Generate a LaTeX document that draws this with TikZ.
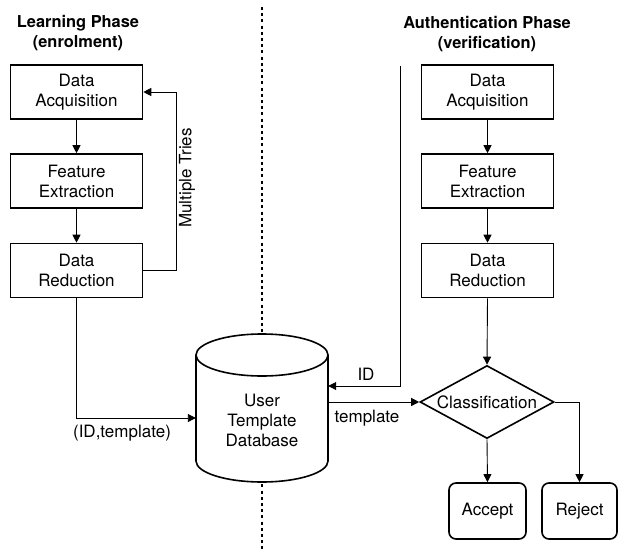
\documentclass[tikz,border=0pt]{standalone}
\usepackage{fontspec}
\setmainfont{TeX Gyre Heros}
\usetikzlibrary{arrows.meta,shapes.geometric}
\begin{document}
\begin{tikzpicture}[x=1pt,y=-1pt,
  every node/.style={font=\fontsize{17}{20}\selectfont},
  procbox/.style={draw, line width=1.6pt, minimum width=132pt, minimum height=54pt, inner sep=0pt, align=center, fill=white},
  endbox/.style={draw, line width=1.6pt, rounded corners=7pt, minimum height=56pt, inner sep=0pt, align=center},
  title/.style={font=\fontsize{16.4}{20}\selectfont\bfseries, align=center},
  conn/.style={line width=0.9pt, -{Triangle[length=8pt,width=8pt]}},
  plain/.style={line width=0.9pt},
  lbl/.style={inner sep=0pt}]
\useasboundingbox (0,0) rectangle (618,549);
% separator
\draw[line width=2pt, dash pattern=on 3pt off 3.2pt] (262,7) -- (262,549);
% titles
\node[title] (tl) at (78,33) {Learning Phase\\(enrolment)};
\node[title] (tr) at (487,34) {Authentication Phase\\(verification)};
% left column
\node[procbox] (la) at (76.5,92) {Data\\Acquisition};
\node[procbox] (lf) at (76.5,181) {Feature\\Extraction};
\node[procbox] (lr) at (76.5,270.5) {Data\\Reduction};
% right column
\node[procbox] (ra) at (487.5,92) {Data\\Acquisition};
\node[procbox] (rf) at (487.5,181) {Feature\\Extraction};
\node[procbox] (rr) at (487.5,270.5) {Data\\Reduction};
% database cylinder
\draw[line width=1.6pt, fill=white] (196,355) -- (196,461) arc[start angle=180, end angle=0, x radius=66, y radius=21] -- (328,355) arc[start angle=360, end angle=180, x radius=66, y radius=21] -- cycle;
\draw[line width=1.6pt] (196,355) arc[start angle=180, end angle=0, x radius=66, y radius=21];
\node[minimum width=132pt, minimum height=86pt, inner sep=0pt, align=center] (db) at (262,420) {User\\Template\\Database};
% classification
\node[draw, diamond, line width=1.6pt, minimum width=134pt, minimum height=73pt, inner sep=0pt] (cls) at (487,402) {};
\node[inner sep=0pt] (clst) at (cls.center) {Classification};
\node[endbox, minimum width=77pt] (acc) at (487.5,511) {Accept};
\node[endbox, minimum width=75pt] (rej) at (579.5,511) {Reject};
% connectors left
\draw[conn] (la) -- (lf);
\draw[conn] (lf) -- (lr);
\draw[conn] (lr.east) -- ++(33,0) |- (la.east);
\node[lbl, rotate=90] (mt) at (187,178) {Multiple Tries};
\draw[conn] (lr.south) |- ([yshift=2pt]db.west);
\node[lbl] (idt) at (122,433) {(ID,template)};
% connectors right
\draw[conn] (ra) -- (rf);
\draw[conn] (rf) -- (rr);
\coordinate (idtop) at (400,66);
\draw[conn] (idtop) |- ([yshift=34pt]db.east);
\node[lbl] (idl) at (366,374) {ID};
\draw[conn] (db.east |- cls.west) -- (cls.west);
\node[lbl] (tpl) at (367,418) {template};
\draw[conn] (rr.south) -- (cls.north);
\draw[conn] (cls.south) -- (acc.north);
\draw[conn] (cls.east) -| (rej.north);
\end{tikzpicture}
\end{document}
